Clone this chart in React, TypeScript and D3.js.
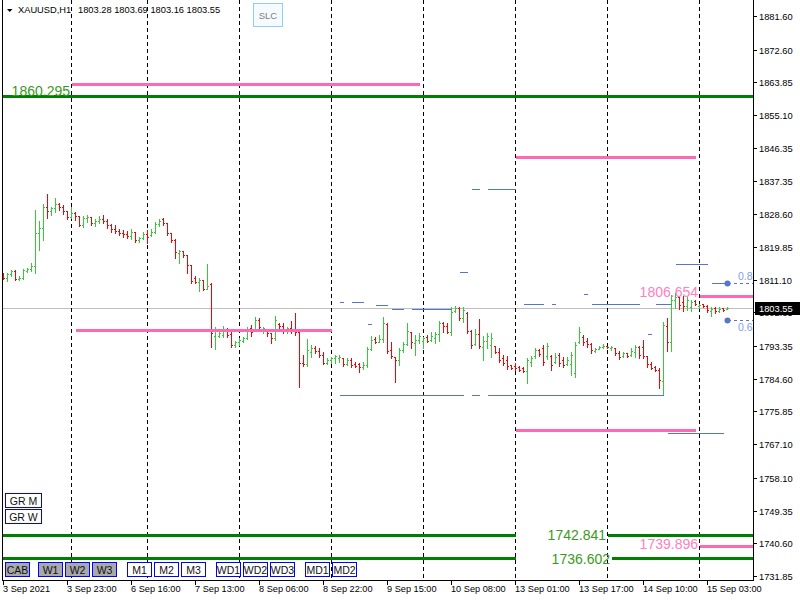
import { useRef, useEffect } from "react";
import * as d3 from "d3";

// XAUUSD H1 bars, oldest first
const openPrices = [
  1812.88, 1811.54, 1812.61, 1813.41, 1811.27, 1811.54, 1813.41, 1813.95, 1814.75, 1823.57,
  1824.91, 1830.53, 1829.46, 1830.26, 1831.33, 1830.53, 1829.46, 1827.85, 1828.92, 1828.12,
  1825.71, 1827.58, 1827.85, 1826.25, 1826.78, 1827.32, 1826.78, 1825.71, 1824.64, 1824.11,
  1823.57, 1823.31, 1822.77, 1823.84, 1821.7, 1822.24, 1823.31, 1823.04, 1823.84, 1825.98,
  1827.32, 1826.25, 1823.57, 1821.7, 1818.23, 1818.76, 1817.69, 1815.02, 1811.54, 1810.47,
  1811.01, 1808.6, 1809.94, 1796.03, 1796.03, 1796.3, 1797.64, 1796.57, 1793.63, 1794.43,
  1794.7, 1795.5, 1798.17, 1797.64, 1800.31, 1797.64, 1797.64, 1796.83, 1795.5, 1799.24,
  1798.71, 1797.64, 1798.17, 1797.64, 1797.1, 1788.81, 1788.55, 1791.75, 1792.82, 1792.02,
  1790.95, 1788.81, 1789.61, 1790.15, 1790.15, 1790.15, 1788.55, 1789.61, 1788.55, 1788.55,
  1787.74, 1788.28, 1792.56, 1795.23, 1794.43, 1795.23, 1799.24, 1792.29, 1790.42, 1789.61,
  1792.29, 1793.89, 1797.1, 1794.16, 1794.96, 1794.7, 1795.76, 1794.96, 1795.5, 1796.57,
  1799.51, 1798.71, 1797.1, 1802.72, 1803.52, 1800.84, 1802.18, 1797.37, 1793.89, 1796.57,
  1793.09, 1794.7, 1793.63, 1793.36, 1791.75, 1790.15, 1789.61, 1788.28, 1788.01, 1787.74,
  1787.48, 1786.67, 1789.08, 1790.68, 1792.29, 1792.82, 1790.68, 1790.68, 1789.08, 1790.95,
  1789.61, 1788.55, 1788.55, 1786.14, 1794.43, 1795.76, 1794.7, 1793.89, 1792.02, 1792.56,
  1793.09, 1793.36, 1792.82, 1792.82, 1791.49, 1790.68, 1791.49, 1790.95, 1791.75, 1793.09,
  1793.09, 1790.68, 1788.55, 1787.74, 1786.94, 1784.0, 1798.71, 1794.43, 1805.66, 1806.46,
  1805.12, 1804.05, 1803.79, 1805.39, 1804.05, 1804.59, 1804.05, 1802.72, 1803.52, 1802.72,
  1803.52, 1803.28,
];
const highPrices = [
  1812.88, 1812.88, 1813.68, 1813.68, 1812.08, 1813.95, 1814.22, 1815.55, 1829.72, 1826.78,
  1831.33, 1834.0, 1830.53, 1832.93, 1831.59, 1831.06, 1829.46, 1830.53, 1829.19, 1828.12,
  1828.12, 1828.39, 1827.85, 1827.32, 1828.12, 1828.39, 1827.32, 1825.98, 1825.71, 1824.64,
  1824.38, 1824.11, 1824.64, 1823.84, 1822.5, 1823.84, 1824.38, 1824.64, 1826.51, 1827.32,
  1827.58, 1826.25, 1823.57, 1821.97, 1819.03, 1818.76, 1817.69, 1815.02, 1812.08, 1811.54,
  1811.01, 1815.28, 1810.2, 1798.44, 1797.37, 1798.71, 1798.17, 1797.1, 1794.7, 1795.5,
  1795.76, 1798.44, 1798.97, 1801.11, 1800.84, 1798.44, 1797.64, 1796.83, 1801.38, 1799.51,
  1799.51, 1798.44, 1800.04, 1802.18, 1797.9, 1790.95, 1795.23, 1793.63, 1793.36, 1792.82,
  1791.75, 1790.15, 1790.42, 1790.95, 1790.95, 1790.15, 1790.15, 1790.15, 1789.08, 1788.81,
  1789.08, 1793.09, 1796.03, 1795.76, 1796.3, 1801.11, 1799.51, 1794.43, 1790.42, 1792.82,
  1794.43, 1799.51, 1797.1, 1796.3, 1796.83, 1795.76, 1796.3, 1797.1, 1797.1, 1800.04,
  1799.77, 1799.51, 1803.79, 1804.05, 1803.79, 1803.79, 1802.45, 1797.64, 1797.9, 1800.58,
  1796.03, 1796.83, 1796.83, 1793.36, 1792.82, 1790.95, 1790.68, 1788.28, 1788.81, 1788.01,
  1787.74, 1790.15, 1790.68, 1792.82, 1792.56, 1793.63, 1794.16, 1790.95, 1791.49, 1791.49,
  1790.42, 1790.42, 1791.75, 1794.43, 1798.44, 1796.3, 1795.5, 1794.16, 1792.82, 1793.36,
  1793.89, 1793.36, 1793.36, 1792.82, 1792.02, 1791.75, 1791.49, 1792.82, 1793.63, 1793.36,
  1794.96, 1790.68, 1789.08, 1788.01, 1787.48, 1799.77, 1800.84, 1806.99, 1807.53, 1806.46,
  1806.73, 1806.46, 1805.66, 1805.66, 1804.59, 1804.59, 1804.32, 1803.79, 1803.79, 1803.79,
  1803.52, 1803.69,
];
const lowPrices = [
  1811.27, 1810.74, 1812.08, 1811.01, 1811.01, 1811.27, 1813.15, 1813.41, 1812.88, 1819.03,
  1821.7, 1827.58, 1828.39, 1829.19, 1829.72, 1828.65, 1827.32, 1827.58, 1827.05, 1825.44,
  1825.18, 1826.51, 1825.71, 1825.44, 1826.25, 1826.25, 1824.91, 1823.84, 1823.57, 1823.04,
  1822.5, 1822.24, 1821.97, 1821.17, 1821.17, 1821.97, 1820.9, 1822.77, 1823.57, 1825.44,
  1825.71, 1823.04, 1821.17, 1816.89, 1815.55, 1817.16, 1812.88, 1810.2, 1810.2, 1808.06,
  1808.33, 1808.6, 1793.09, 1792.56, 1795.76, 1795.76, 1795.76, 1793.09, 1793.09, 1793.63,
  1794.43, 1795.23, 1796.03, 1797.64, 1797.9, 1796.83, 1796.03, 1794.16, 1794.96, 1797.9,
  1796.83, 1796.83, 1796.83, 1796.3, 1782.4, 1788.01, 1788.01, 1790.42, 1791.49, 1790.42,
  1788.55, 1788.55, 1788.81, 1788.81, 1789.08, 1788.01, 1788.28, 1787.74, 1787.74, 1786.41,
  1787.21, 1787.74, 1792.29, 1794.16, 1794.43, 1794.43, 1791.49, 1790.15, 1783.73, 1788.28,
  1791.75, 1793.63, 1792.82, 1790.95, 1794.16, 1792.82, 1794.43, 1794.7, 1794.16, 1794.7,
  1797.1, 1796.83, 1796.3, 1802.45, 1800.31, 1799.77, 1796.83, 1792.82, 1793.63, 1792.82,
  1789.61, 1792.82, 1790.42, 1791.49, 1789.08, 1788.28, 1787.21, 1787.21, 1786.94, 1786.67,
  1786.41, 1783.47, 1788.01, 1790.15, 1790.68, 1788.28, 1789.88, 1786.94, 1788.81, 1788.01,
  1787.74, 1788.28, 1785.6, 1785.07, 1794.16, 1793.63, 1793.09, 1791.49, 1791.75, 1792.56,
  1792.82, 1792.82, 1792.29, 1790.95, 1789.88, 1790.42, 1790.42, 1790.68, 1790.42, 1790.15,
  1790.15, 1787.74, 1787.21, 1786.67, 1782.13, 1780.26, 1792.02, 1792.02, 1803.52, 1803.25,
  1802.72, 1802.98, 1802.72, 1804.32, 1803.52, 1803.79, 1802.45, 1801.38, 1802.18, 1802.45,
  1802.72, 1803.16,
];
const closePrices = [
  1811.54, 1812.61, 1813.41, 1811.27, 1811.54, 1813.68, 1813.95, 1814.75, 1823.57, 1824.91,
  1830.53, 1829.46, 1830.26, 1831.33, 1830.53, 1829.46, 1827.85, 1828.92, 1828.12, 1825.71,
  1827.58, 1827.85, 1826.25, 1826.78, 1827.32, 1826.78, 1825.71, 1824.64, 1824.11, 1823.57,
  1823.31, 1822.77, 1823.84, 1821.7, 1822.24, 1823.31, 1822.5, 1823.84, 1825.98, 1826.78,
  1826.25, 1823.57, 1821.7, 1818.49, 1818.76, 1817.69, 1815.02, 1810.74, 1810.47, 1811.01,
  1808.6, 1809.4, 1796.83, 1797.9, 1796.83, 1797.64, 1796.3, 1793.63, 1794.43, 1794.96,
  1795.5, 1797.64, 1797.1, 1800.31, 1798.44, 1798.17, 1796.83, 1795.5, 1800.31, 1798.71,
  1797.64, 1798.17, 1797.64, 1797.1, 1788.81, 1788.55, 1792.29, 1792.82, 1792.02, 1790.95,
  1788.81, 1789.61, 1790.15, 1790.68, 1790.42, 1788.55, 1789.61, 1788.28, 1788.01, 1787.74,
  1788.28, 1792.56, 1794.96, 1794.43, 1795.23, 1799.51, 1792.02, 1790.68, 1789.61, 1792.29,
  1793.89, 1797.37, 1794.43, 1794.96, 1796.03, 1795.5, 1794.7, 1796.03, 1796.57, 1799.51,
  1798.71, 1797.1, 1802.45, 1803.52, 1800.84, 1802.98, 1797.37, 1793.63, 1796.57, 1793.36,
  1794.7, 1796.03, 1795.5, 1791.75, 1789.61, 1788.81, 1788.01, 1787.48, 1787.48, 1786.94,
  1786.67, 1789.61, 1790.15, 1792.29, 1791.22, 1789.08, 1793.36, 1788.28, 1790.42, 1788.81,
  1788.28, 1789.61, 1790.95, 1793.63, 1797.1, 1794.43, 1793.89, 1792.29, 1792.56, 1793.09,
  1793.36, 1793.09, 1793.09, 1791.49, 1790.42, 1791.49, 1790.68, 1792.02, 1793.09, 1790.95,
  1790.68, 1788.55, 1787.48, 1786.94, 1784.27, 1798.97, 1794.43, 1805.66, 1806.46, 1804.32,
  1804.05, 1805.66, 1805.12, 1804.59, 1804.32, 1804.05, 1802.98, 1803.25, 1802.72, 1803.25,
  1802.98, 1803.55,
];

const priceTicks = [
  "1881.60", "1872.60", "1863.85", "1855.10", "1846.35", "1837.35", "1828.60", "1819.85", "1811.10",
  "1802.35", "1793.35", "1784.60", "1775.85", "1767.10", "1758.10", "1749.35", "1740.60", "1731.85",
];
const timeLabels = [
  "3 Sep 2021", "3 Sep 23:00", "6 Sep 16:00", "7 Sep 13:00", "8 Sep 06:00", "8 Sep 22:00",
  "9 Sep 15:00", "10 Sep 08:00", "13 Sep 01:00", "13 Sep 17:00", "14 Sep 10:00", "15 Sep 03:00",
];
const timeLabelStep = 16;
const daySeparators = [17, 36, 59, 82, 105, 128, 151, 174];

const lastPrice = 1803.55;

// horizontal objects: price, first bar, last bar (null = chart edge)
const pinkLevels: [number, number | null, number | null][] = [
  [1863.42, 17, 104],
  [1843.9, 128, 173],
  [1797.63, 18, 82],
  [1770.9, 128, 173],
  [1806.654, 174, null],
  [1739.896, 174, null],
];
const greenLevels: [number, number | null, number | null][] = [
  [1860.295, null, null],
  [1742.841, null, 128],
  [1742.841, 151, null],
  [1736.602, null, 128],
  [1736.602, 152, null],
];
const blueLevels: [number, number, number][] = [
  [1835.26, 117, 119], [1835.26, 121, 128],
  [1813.06, 114, 116],
  [1815.2, 168, 176],
  [1810.2, 177, 181],
  [1805.04, 84, 85], [1805.04, 87, 90],
  [1804.24, 93, 96],
  [1803.17, 97, 100], [1803.17, 102, 112],
  [1804.6, 130, 135], [1804.6, 137, 138], [1804.6, 147, 159], [1804.6, 163, 167],
  [1799.16, 91, 92],
  [1807.2, 145, 146],
  [1796.57, 161, 162],
  [1780.17, 84, 115], [1780.17, 117, 119], [1780.17, 121, 165],
  [1770.0, 166, 180],
];
const fibLevels: [number, string][] = [
  [1810.2, "0.8"],
  [1800.3, "0.6"],
];
const fibBar = 181;

const levelLabels: [string, number, number, string][] = [
  ["1860.295", 1860.295, 17, "green"],
  ["1742.841", 1742.841, 151, "green"],
  ["1736.602", 1736.602, 152, "green"],
  ["1806.654", 1806.654, 174, "pink"],
  ["1739.896", 1739.896, 174, "pink"],
];

const headerSymbol = "XAUUSD,H1";
const headerOHLC = "1803.28 1803.69 1803.16 1803.55";

const buttonRows = [["CAB"], ["W1", "W2", "W3"], ["M1", "M2", "M3"], ["WD1", "WD2", "WD3"], ["MD1", "MD2"]];
const greyButtons = ["CAB", "W1", "W2", "W3"];
const sideButtons = ["GR M", "GR W"];

export default function App() {
  const ref = useRef<SVGSVGElement | null>(null);

  useEffect(() => {
    const svg = d3.select(ref.current);
    svg.selectAll("*").remove();

    const width = 800;
    const height = 600;
    const left = 2;
    const right = 753;
    const bottom = 580;
    const font = "'Liberation Sans', Arial, sans-serif";
    // baseline offset of each level label relative to its line
    const labelBaseline = [-0.5, 4.5, 5.5, 0.5, 2.5];

    const x = d3.scaleLinear().domain([0, 187]).range([3.5, 751.5]);
    const y = d3.scaleLinear().domain([1731.85, 1881.6]).range([576, 16]);
    const py = (v: number) => Math.round(y(v)) + 0.5;
    const edgeX = (b: number | null, isStart: boolean) =>
      b === null ? (isStart ? left : right) : x(b);

    svg.append("rect").attr("width", width).attr("height", height).attr("fill", "#fff");

    // bid line
    svg
      .append("line")
      .attr("x1", left)
      .attr("x2", right)
      .attr("y1", py(lastPrice))
      .attr("y2", py(lastPrice))
      .attr("stroke", "#c0c0c0")
      .attr("stroke-width", 1);

    // day separators
    svg
      .append("g")
      .selectAll("line")
      .data(daySeparators)
      .join("line")
      .attr("x1", (d) => x(d))
      .attr("x2", (d) => x(d))
      .attr("y1", 0)
      .attr("y2", bottom)
      .attr("stroke", "#000")
      .attr("stroke-width", 1)
      .attr("stroke-dasharray", "4,3")
      .attr("shape-rendering", "crispEdges");

    // OHLC bars
    const bars = d3.range(openPrices.length).map((i) => ({
      i,
      o: openPrices[i],
      h: highPrices[i],
      l: lowPrices[i],
      c: closePrices[i],
    }));
    svg
      .append("g")
      .attr("shape-rendering", "crispEdges")
      .selectAll("path")
      .data(bars)
      .join("path")
      .attr("fill", "none")
      .attr("stroke", (d) => (d.c >= d.o ? "#32cd32" : "#ff0000"))
      .attr("stroke-width", 1)
      .attr("d", (d) => {
        const cx = x(d.i);
        const top = Math.round(y(d.h));
        const bot = Math.round(y(d.l)) + 1;
        return `M${cx},${top}V${bot}M${cx - 1.5},${py(d.o)}H${cx}M${cx},${py(d.c)}H${cx + 1.5}`;
      });

    // objects
    const objects = svg.append("g").attr("shape-rendering", "crispEdges");
    objects
      .selectAll("line.blue")
      .data(blueLevels)
      .join("line")
      .attr("class", "blue")
      .attr("x1", (d) => x(d[1]))
      .attr("x2", (d) => x(d[2]))
      .attr("y1", (d) => py(d[0]))
      .attr("y2", (d) => py(d[0]))
      .attr("stroke", "#5577c8")
      .attr("stroke-width", 1);

    objects
      .selectAll("line.fib")
      .data(fibLevels)
      .join("line")
      .attr("class", "fib")
      .attr("x1", x(fibBar))
      .attr("x2", right)
      .attr("y1", (d) => py(d[0]))
      .attr("y2", (d) => py(d[0]))
      .attr("stroke", "#5577c8")
      .attr("stroke-dasharray", "3,3");

    svg
      .append("g")
      .selectAll("circle")
      .data(fibLevels)
      .join("circle")
      .attr("cx", x(fibBar))
      .attr("cy", (d) => py(d[0]))
      .attr("r", 3)
      .attr("fill", "#5577c8");

    svg
      .append("g")
      .selectAll("text")
      .data(fibLevels)
      .join("text")
      .attr("x", 738)
      .attr("y", (d, k) => py(d[0]) + (k === 0 ? -3.5 : 10.5))
      .attr("font-family", font)
      .attr("font-size", 10.5)
      .attr("fill", "#7f9fe2")
      .text((d) => d[1]);

    objects
      .selectAll("line.green")
      .data(greenLevels)
      .join("line")
      .attr("class", "green")
      .attr("x1", (d) => edgeX(d[1], true))
      .attr("x2", (d) => edgeX(d[2], false))
      .attr("y1", (d) => py(d[0]))
      .attr("y2", (d) => py(d[0]))
      .attr("stroke", "#008000")
      .attr("stroke-width", 3.5);

    objects
      .selectAll("line.pink")
      .data(pinkLevels)
      .join("line")
      .attr("class", "pink")
      .attr("x1", (d) => edgeX(d[1], true))
      .attr("x2", (d) => edgeX(d[2], false))
      .attr("y1", (d) => py(d[0]))
      .attr("y2", (d) => py(d[0]))
      .attr("stroke", "#ff69b4")
      .attr("stroke-width", 3.5);

    svg
      .append("g")
      .selectAll("text")
      .data(levelLabels)
      .join("text")
      .attr("x", (d) => x(d[2]) - 1.5)
      .attr("y", (d, k) => py(d[1]) + labelBaseline[k])
      .attr("text-anchor", "end")
      .attr("font-family", font)
      .attr("font-size", 14)
      .attr("fill", (d) => (d[3] === "green" ? "#3a9a1c" : "#ff80c0"))
      .text((d) => d[0]);

    // frame
    const frame = svg.append("g").attr("shape-rendering", "crispEdges").attr("stroke", "#000");
    frame.append("line").attr("x1", left + 0.5).attr("x2", left + 0.5).attr("y1", 0).attr("y2", bottom + 1);
    frame.append("line").attr("x1", right + 0.5).attr("x2", right + 0.5).attr("y1", 0).attr("y2", bottom + 1);
    frame.append("line").attr("x1", left).attr("x2", right + 1).attr("y1", bottom + 0.5).attr("y2", bottom + 0.5);

    // price axis
    const yAxis = svg.append("g");
    yAxis
      .selectAll("line")
      .data(priceTicks)
      .join("line")
      .attr("x1", right)
      .attr("x2", right + 4)
      .attr("y1", (d) => py(+d))
      .attr("y2", (d) => py(+d))
      .attr("stroke", "#000")
      .attr("shape-rendering", "crispEdges");
    yAxis
      .selectAll("text")
      .data(priceTicks)
      .join("text")
      .attr("x", right + 6)
      .attr("y", (d) => py(+d) + 3.5)
      .attr("font-family", font)
      .attr("font-size", 9.3)
      .attr("fill", "#000")
      .text((d) => d);

    // last price tag
    svg
      .append("rect")
      .attr("x", 755)
      .attr("y", Math.round(y(lastPrice)) - 6)
      .attr("width", 45)
      .attr("height", 13)
      .attr("fill", "#000");
    svg
      .append("text")
      .attr("x", 759)
      .attr("y", py(lastPrice) + 3.5)
      .attr("font-family", font)
      .attr("font-size", 9.3)
      .attr("fill", "#fff")
      .text(lastPrice.toFixed(2));

    // time axis
    const xAxis = svg.append("g");
    xAxis
      .selectAll("line")
      .data(timeLabels)
      .join("line")
      .attr("x1", (_, k) => x(k * timeLabelStep))
      .attr("x2", (_, k) => x(k * timeLabelStep))
      .attr("y1", bottom)
      .attr("y2", bottom + 5)
      .attr("stroke", "#000")
      .attr("shape-rendering", "crispEdges");
    xAxis
      .selectAll("text")
      .data(timeLabels)
      .join("text")
      .attr("x", (_, k) => x(k * timeLabelStep) - 0.5)
      .attr("y", 592)
      .attr("font-family", font)
      .attr("font-size", 9.2)
      .attr("fill", "#000")
      .text((d) => d);

    // header
    svg.append("path").attr("d", "M7,9H12.5L9.75,12Z").attr("fill", "#000");
    svg
      .append("text")
      .attr("x", 18)
      .attr("y", 13)
      .attr("font-family", font)
      .attr("font-size", 9.3)
      .attr("fill", "#000")
      .text(headerSymbol);
    svg
      .append("text")
      .attr("x", 78)
      .attr("y", 13)
      .attr("font-family", font)
      .attr("font-size", 9.3)
      .attr("fill", "#000")
      .text(headerOHLC);

    // SLC button
    svg
      .append("rect")
      .attr("x", 253.5)
      .attr("y", 3.5)
      .attr("width", 29)
      .attr("height", 23)
      .attr("fill", "#f4fafd")
      .attr("stroke", "#8cd2ee");
    svg
      .append("text")
      .attr("x", 268)
      .attr("y", 19)
      .attr("text-anchor", "middle")
      .attr("font-family", font)
      .attr("font-size", 9.5)
      .attr("fill", "#808080")
      .text("SLC");

    // buttons
    const drawButton = (bx: number, by: number, bw: number, label: string, grey: boolean) => {
      const g = svg.append("g");
      g.append("rect")
        .attr("x", bx + 0.5)
        .attr("y", by + 0.5)
        .attr("width", bw)
        .attr("height", 14)
        .attr("fill", grey ? "#a9a9a9" : "#fff")
        .attr("stroke", "#0000ff")
        .attr("shape-rendering", "crispEdges");
      g.append("text")
        .attr("x", bx + bw / 2 + 0.5)
        .attr("y", by + 11.5)
        .attr("text-anchor", "middle")
        .attr("font-family", font)
        .attr("font-size", 10.5)
        .attr("fill", "#111")
        .text(label);
    };
    sideButtons.forEach((b, k) => drawButton(5, 493 + k * 16, 36, b, false));
    let bx = 5;
    buttonRows.forEach((row, r) => {
      if (r > 0) bx += r === 1 ? 6 : 8;
      row.forEach((b) => {
        drawButton(bx, 562, 24, b, greyButtons.includes(b));
        bx += 27;
      });
    });
  }, []);

  return (
    <svg
      ref={ref}
      width={800}
      height={600}
      style={{ position: "fixed", left: 0, top: 0, display: "block" }}
    ></svg>
  );
}
